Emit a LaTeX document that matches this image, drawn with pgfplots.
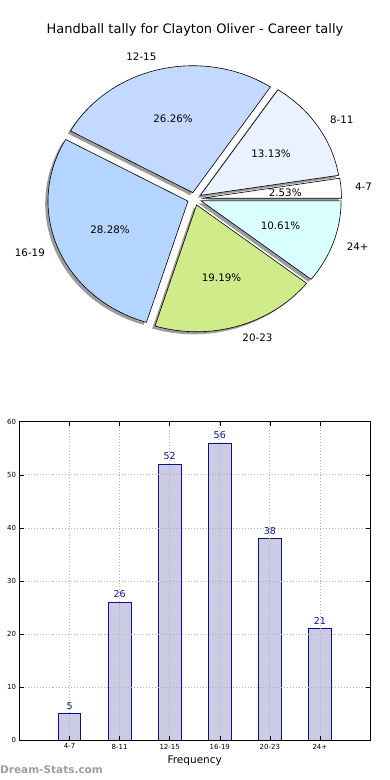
\documentclass[border=0pt]{standalone}
\usepackage{pgfplots}
\pgfplotsset{compat=1.18}
\usepackage{pgfplotstable}
\usepackage{fontspec}
\setmainfont{DejaVu Sans}
\definecolor{c1}{HTML}{FFFFFF}
\definecolor{c2}{HTML}{EAF1FF}
\definecolor{c3}{HTML}{C4D9FF}
\definecolor{c4}{HTML}{B4D5FF}
\definecolor{c5}{HTML}{D0EB8A}
\definecolor{c6}{HTML}{D9FFFF}
\definecolor{barfill}{HTML}{CBCBE3}
\definecolor{baredge}{HTML}{10108C}
\definecolor{shadowc}{HTML}{9C9C9C}
\pgfplotstableread{
label count color
4-7 5 c1
8-11 26 c2
12-15 52 c3
16-19 56 c4
20-23 38 c5
24+ 21 c6
}\piedata
\pgfplotstableread{
idx count
0 5
1 26
2 52
3 56
4 38
5 21
}\bardata
% total and wedge angles from the data
\gdef\piesum{0}
\pgfplotstableforeachcolumnelement{count}\of\piedata\as\v{\pgfmathsetmacro\tmp{\piesum+\v}\xdef\piesum{\tmp}}
\gdef\acc{0}
\pgfplotsforeachungrouped \i in {0,...,5}{%
  \pgfplotstablegetelem{\i}{count}\of\piedata
  \pgfmathsetmacro\tmpa{\acc/\piesum*360}%
  \pgfmathsetmacro\tmpacc{\acc+\pgfplotsretval}%
  \pgfmathsetmacro\tmpb{\tmpacc/\piesum*360}%
  \expandafter\xdef\csname pa\i\endcsname{\tmpa}%
  \expandafter\xdef\csname pb\i\endcsname{\tmpb}%
  \xdef\acc{\tmpacc}%
}
\begin{document}
\begin{tikzpicture}
\useasboundingbox (0,0) rectangle (390pt,780pt);
\node[font=\fontsize{13}{15}\selectfont] at (195pt,750pt) {Handball tally for Clayton Oliver - Career tally};
% ---------------- pie ----------------
\begin{axis}[hide axis, x=140pt, y=126.9pt, xmin=-1.3, xmax=1.3, ymin=-1.25, ymax=1.25,
  at={(194.5pt,581.2pt)}, anchor=origin, clip=false]
\pgfplotsextra{%
  % shadows
  \pgfplotsforeachungrouped \i in {0,...,5}{%
    \edef\aa{\csname pa\i\endcsname}\edef\bb{\csname pb\i\endcsname}%
    \pgfmathsetmacro\mm{(\aa+\bb)/2}%
    \pgfmathsetmacro\ox{0.05*cos(\mm)-0.02}%
    \pgfmathsetmacro\oy{0.05*sin(\mm)-0.02}%
    \fill[shadowc] (axis cs:\ox,\oy) -- (axis cs:{\ox+cos(\aa)},{\oy+sin(\aa)})
      arc[start angle=\aa,end angle=\bb,x radius=140pt,y radius=126.9pt] -- cycle;
  }%
  % wedges
  \pgfplotsforeachungrouped \i in {0,...,5}{%
    \edef\aa{\csname pa\i\endcsname}\edef\bb{\csname pb\i\endcsname}%
    \pgfplotstablegetelem{\i}{color}\of\piedata \edef\wc{\pgfplotsretval}%
    \pgfmathsetmacro\mm{(\aa+\bb)/2}%
    \pgfmathsetmacro\ox{0.05*cos(\mm)}%
    \pgfmathsetmacro\oy{0.05*sin(\mm)}%
    \filldraw[fill=\wc, draw=black, line width=0.6pt, line join=miter] (axis cs:\ox,\oy) -- (axis cs:{\ox+cos(\aa)},{\oy+sin(\aa)})
      arc[start angle=\aa,end angle=\bb,x radius=140pt,y radius=126.9pt] -- cycle;
  }%
  % labels
  \pgfplotsforeachungrouped \i in {0,...,5}{%
    \edef\aa{\csname pa\i\endcsname}\edef\bb{\csname pb\i\endcsname}%
    \pgfplotstablegetelem{\i}{label}\of\piedata \edef\lab{\pgfplotsretval}%
    \pgfplotstablegetelem{\i}{count}\of\piedata \edef\cnt{\pgfplotsretval}%
    \pgfmathsetmacro\pct{\cnt*100/\piesum+0.0001}%
    \pgfmathsetmacro\mm{(\aa+\bb)/2}%
    \pgfmathsetmacro\ox{0.05*cos(\mm)}%
    \pgfmathsetmacro\oy{0.05*sin(\mm)}%
    \pgfmathtruncatemacro\isright{cos(\mm)>0}%
    \ifnum\isright=1 \def\anc{west}\else\def\anc{east}\fi
    \node[anchor=\anc, inner sep=0pt, font=\fontsize{10.3}{12}\selectfont]
      at (axis cs:{\ox+1.1*cos(\mm)},{\oy+1.1*sin(\mm)}) {\lab};
    \node[anchor=center, inner sep=0pt, font=\fontsize{10.3}{12}\selectfont]
      at (axis cs:{\ox+0.6*cos(\mm)},{\oy+0.6*sin(\mm)}) {\pgfmathprintnumber[fixed,fixed zerofill,precision=2,assume math mode=true]{\pct}\%};
  }%
}
\end{axis}
% ---------------- bars ----------------
\begin{axis}[at={(19.5pt,39.7pt)}, anchor=south west, width=350.5pt, height=318.6pt, scale only axis,
  xmin=-1, xmax=6, ymin=0, ymax=60,
  xtick={0,...,5}, xticklabels={4-7,8-11,12-15,16-19,20-23,24+},
  ytick={0,10,...,60},
  grid=major, grid style={dash pattern=on 1pt off 2pt, black!30, line width=0.8pt},
  tick align=inside, xtick pos=both, ytick pos=both, major tick length=4pt,
  tick style={black, line width=0.5pt},
  ticklabel style={font=\fontsize{7}{8}\selectfont},
  /pgf/number format/assume math mode=true,
  xlabel={Frequency}, xlabel style={font=\fontsize{10.5}{12}\selectfont},
  axis line style={line width=0.8pt},
  axis on top,
]
\addplot[ybar, bar width=0.45, fill=barfill, draw=baredge, line width=0.7pt,
  nodes near coords, nodes near coords style={font=\fontsize{9.5}{11}\selectfont, text=baredge, inner sep=1.5pt, yshift=2.5pt}]
  table[x=idx,y=count]{\bardata};
\end{axis}
\node[anchor=west, inner sep=0pt, text=black!38, font=\bfseries\fontsize{10.5}{12}\selectfont] at (0pt,10pt) {Dream-Stats.com};
\end{tikzpicture}
\end{document}
